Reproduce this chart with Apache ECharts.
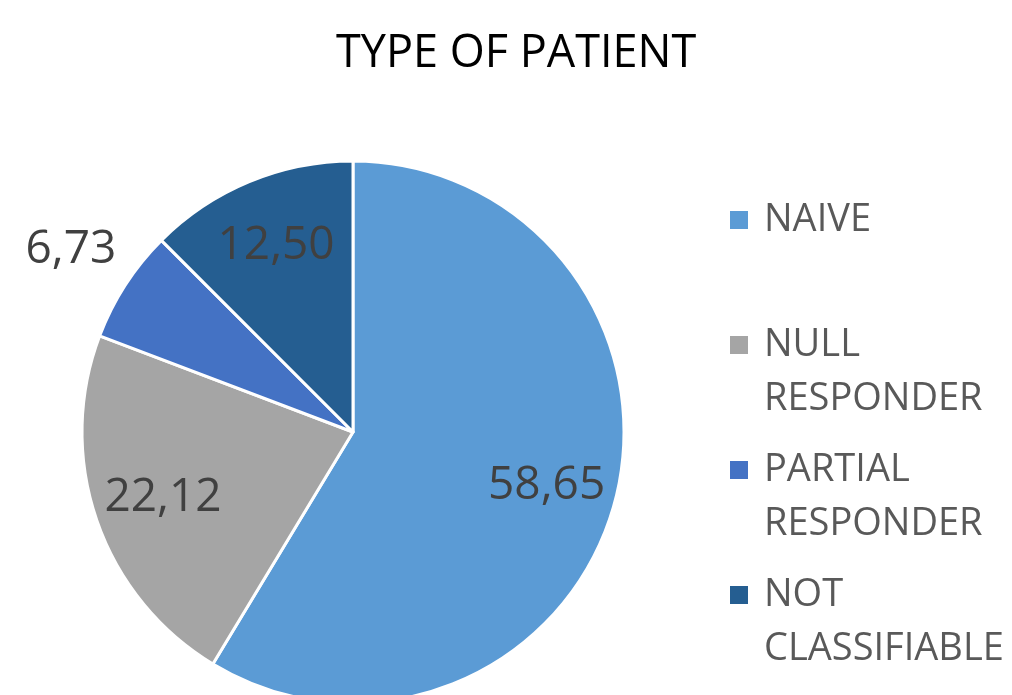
<!DOCTYPE html>
<html>
<head>
    <meta charset="UTF-8">
    <title>Type of patient</title>
    <script src="https://cdn.jsdelivr.net/npm/echarts@6/dist/echarts.min.js"></script>
    <style>
        html, body { margin: 0; padding: 0; background: #fff; }
        #chart { width: 1012px; height: 695px; }
    </style>
</head>
<body>
<div id="chart"></div>
<script type="text/javascript">
    // data
    var categories = ['NAIVE', 'NULL RESPONDER', 'PARTIAL RESPONDER', 'NOT CLASSIFIABLE'];
    var legendLines = [['NAIVE'], ['NULL', 'RESPONDER'], ['PARTIAL', 'RESPONDER'], ['NOT', 'CLASSIFIABLE']];
    var values = [58.65, 22.12, 6.73, 12.50];
    var colors = ['#5B9BD5', '#A5A5A5', '#4472C4', '#255E91'];
    var outsideLabels = ['PARTIAL RESPONDER'];   // label drawn outside the pie

    var FONT = '"Open Sans", "Noto Sans", sans-serif';
    var R = 271;
    var CENTER = [353, 432];

    var pieData = [];
    for (var i = 0; i < categories.length; i++) {
        pieData.push({ name: categories[i], value: values[i], itemStyle: { color: colors[i] } });
    }

    function fmt(v) {
        return v.toFixed(2).replace('.', ',');
    }

    // legend text: empty line on top so the marker sits on the first line
    var legendText = {};
    for (var i = 0; i < categories.length; i++) {
        var l = legendLines[i].slice();
        if (l.length < 2) l.push('');
        legendText[categories[i]] = '\n' + l.join('\n');
    }

    var option = {
        backgroundColor: '#fff',
        animation: false,
        title: {
            text: 'TYPE OF PATIENT',
            left: 336,
            top: 32,
            padding: 0,
            textStyle: { fontFamily: FONT, fontSize: 45, fontWeight: 'normal', color: '#000' }
        },
        legend: {
            orient: 'vertical',
            left: 728,
            top: 139,
            padding: 0,
            itemWidth: 20,
            itemHeight: 20,
            itemGap: -37,
            icon: 'rect',
            data: categories,
            formatter: function (name) { return legendText[name]; },
            textStyle: { fontFamily: FONT, fontSize: 38, lineHeight: 54, color: '#595959', padding: [0, 0, 0, 10] }
        },
        series: [
            {
                type: 'pie',
                center: CENTER,
                radius: [0, R],
                startAngle: 90,
                clockwise: true,
                silent: true,
                label: { show: false },
                labelLine: { show: false },
                itemStyle: { borderColor: '#fff', borderWidth: 3 },
                data: pieData
            },
            {
                // labels inside the slices
                type: 'pie',
                center: CENTER,
                radius: [125, R],
                startAngle: 90,
                silent: true,
                avoidLabelOverlap: false,
                itemStyle: { color: 'rgba(0,0,0,0)', borderWidth: 0 },
                label: {
                    show: true,
                    position: 'inside',
                    fontFamily: FONT,
                    fontSize: 46,
                    color: '#404040',
                    formatter: function (p) {
                        return outsideLabels.indexOf(p.name) >= 0 ? '' : fmt(p.value);
                    }
                },
                labelLine: { show: false },
                data: categories.map(function (c, i) { return { name: c, value: values[i] }; })
            },
            {
                // label drawn outside the small slice
                type: 'pie',
                center: CENTER,
                radius: [296, 370],
                startAngle: 90,
                silent: true,
                avoidLabelOverlap: false,
                itemStyle: { color: 'rgba(0,0,0,0)', borderWidth: 0 },
                label: {
                    show: true,
                    position: 'inside',
                    fontFamily: FONT,
                    fontSize: 46,
                    color: '#404040',
                    formatter: function (p) {
                        return outsideLabels.indexOf(p.name) >= 0 ? fmt(p.value) : '';
                    }
                },
                labelLine: { show: false },
                data: categories.map(function (c, i) { return { name: c, value: values[i] }; })
            }
        ]
    };

    echarts.init(document.getElementById('chart')).setOption(option);
</script>
</body>
</html>
